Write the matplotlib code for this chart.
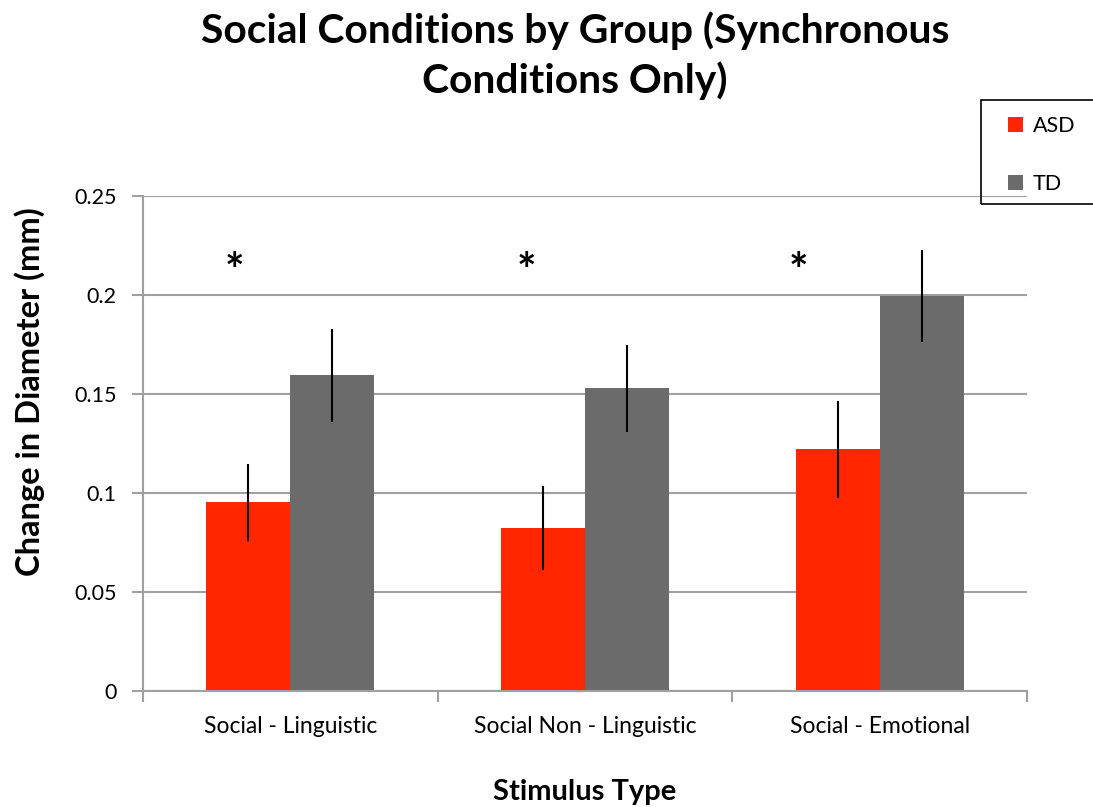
import matplotlib
matplotlib.use("Agg")
import matplotlib.pyplot as plt
from matplotlib.patches import Rectangle
import numpy as np

plt.rcParams['font.family'] = ['Lato', 'DejaVu Sans']

categories = ['Social - Linguistic', 'Social Non - Linguistic', 'Social - Emotional']
asd = [0.0953, 0.0822, 0.1222]
td = [0.1594, 0.1529, 0.1995]
asd_err = [0.0193, 0.0213, 0.0245]
td_err = [0.0235, 0.0219, 0.0232]
star_offsets = [-0.19, -0.20, -0.275]
star_y = 0.211

red = '#FF2600'
grey = '#6B6B6B'
axis_grey = '#A0A0A0'

fig = plt.figure(figsize=(10.93, 8.07), dpi=100)
ax = fig.add_axes([0.1308, 0.1437, 0.8088, 0.6134])

x = np.arange(len(categories)) + 0.5
w = 0.285
ax.bar(x - w/2, asd, w, color=red, label='ASD', zorder=2)
ax.bar(x + w/2, td, w, color=grey, label='TD', zorder=2)
ax.errorbar(x - w/2, asd, yerr=asd_err, fmt='none', ecolor='black', elinewidth=1.5, capsize=0, zorder=3)
ax.errorbar(x + w/2, td, yerr=td_err, fmt='none', ecolor='black', elinewidth=1.5, capsize=0, zorder=3)

for xi, off in zip(x, star_offsets):
    ax.text(xi + off, star_y, '*', ha='center', va='center', fontsize=33, fontweight='bold')

ax.set_xlim(0, 3)
ax.set_ylim(0, 0.25)
ax.set_yticks([0, 0.05, 0.1, 0.15, 0.2, 0.25])
ax.set_yticklabels(['0', '0.05', '0.1', '0.15', '0.2', '0.25'], fontsize=15.5)
ax.yaxis.grid(True, color=axis_grey, linewidth=1.5, zorder=0)
ax.set_axisbelow(True)

ax.set_xticks([0, 1, 2, 3])
ax.set_xticklabels([])
ax.set_xticks(x, minor=True)
ax.set_xticklabels(categories, minor=True, fontsize=16.5)
ax.tick_params(axis='x', which='minor', length=0, pad=18)
ax.tick_params(axis='x', which='major', length=8, color=axis_grey, width=1.5)
ax.tick_params(axis='y', length=8, color=axis_grey, width=1.5, pad=11)

for s in ['top', 'right']:
    ax.spines[s].set_visible(False)
for s in ['left', 'bottom']:
    ax.spines[s].set_color(axis_grey)
    ax.spines[s].set_linewidth(1.5)

H = 807
fig.text(0.535, 1 - 800/H, 'Stimulus Type', ha='center', va='baseline', fontsize=21, fontweight='bold')
fig.text(30/1093, 1 - 392/H, 'Change in Diameter (mm)', rotation=90, ha='center', va='center',
         fontsize=23.5, fontweight='bold')

fig.text(0.526, 1 - 43/H, 'Social Conditions by Group (Synchronous', ha='center', va='baseline',
         fontsize=29.3, fontweight='bold')
fig.text(0.526, 1 - 93/H, 'Conditions Only)', ha='center', va='baseline',
         fontsize=29.3, fontweight='bold')

# legend box clipped at the right edge
fig.patches.append(Rectangle((981/1093, 1 - 204/H), 0.2, 104/H, transform=fig.transFigure,
                             fill=False, edgecolor='black', linewidth=1.2))
leg = fig.legend(loc='upper left', bbox_to_anchor=(1008/1093, 1 - 116/H), frameon=False,
                 fontsize=15.5, handlelength=0.7, handleheight=0.7, labelspacing=1.75,
                 handletextpad=0.45, borderaxespad=0, borderpad=0)

fig.savefig('out.png', dpi=100)
